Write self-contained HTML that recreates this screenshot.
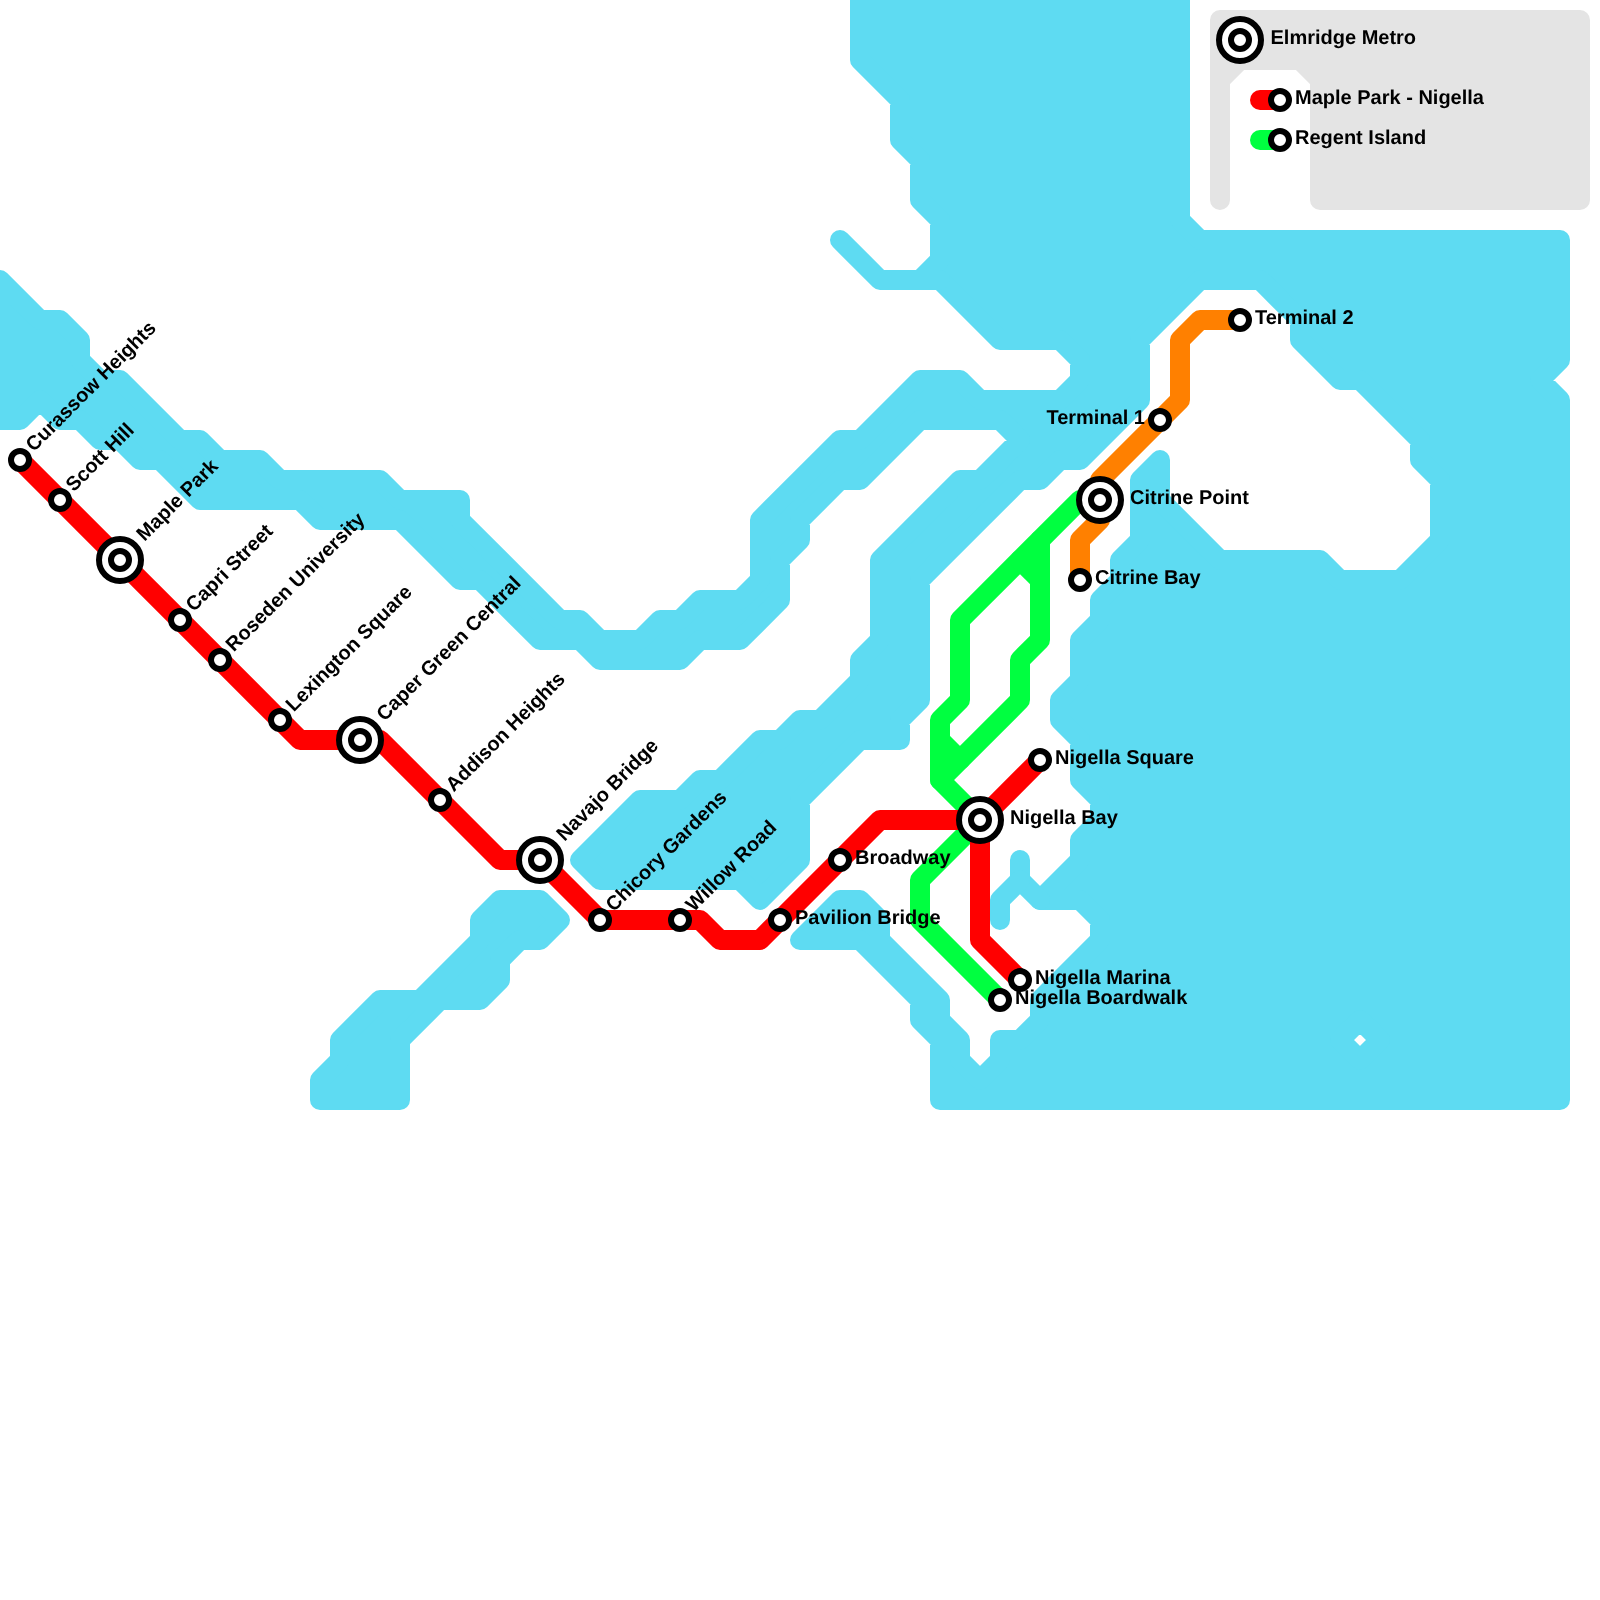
<!DOCTYPE html>
<html><head><meta charset="utf-8"><title>Elmridge Metro</title>
<style>
html,body{margin:0;padding:0;background:#fff}
svg{display:block;will-change:transform}
text{font-family:"Liberation Sans",sans-serif;font-weight:bold;font-size:20px;fill:#000;text-rendering:geometricPrecision}
</style></head><body>
<svg width="1600" height="1600" viewBox="0 0 1600 1600">
<rect width="1600" height="1600" fill="#fff"/>
<g fill="#5edbf2" stroke="#5edbf2" stroke-width="20" stroke-linejoin="round" stroke-linecap="round">
<path fill-rule="evenodd" d="M0,280 L40,320 L60,320 L80,340 L80,360 L100,380 L120,380 L180,440 L200,440 L220,460 L260,460 L280,480 L380,480 L400,500 L460,500 L460,520 L560,620 L580,620 L600,640 L640,640 L660,620 L680,620 L700,600 L740,600 L760,580 L760,520 L840,440 L860,440 L920,380 L960,380 L980,400 L1060,400 L1080,380 L1080,360 L1060,340 L1000,340 L940,280 L920,280 L940,260 L940,220 L920,200 L920,160 L900,140 L900,100 L860,60 L860,-20 L1180,-20 L1180,220 L1200,240 L1560,240 L1560,360 L1540,380 L1560,400 L1560,1100 L940,1100 L940,1040 L920,1020 L920,1000 L860,940 L800,940 L840,900 L860,900 L880,920 L880,940 L940,1000 L940,1020 L960,1040 L960,1060 L980,1080 L1000,1060 L1000,1040 L1020,1040 L1040,1020 L1040,1000 L1100,940 L1100,920 L1080,900 L1040,900 L1080,860 L1080,840 L1100,820 L1100,800 L1080,780 L1080,740 L1060,720 L1060,700 L1080,680 L1080,640 L1100,620 L1100,600 L1120,580 L1120,560 L1140,540 L1140,480 L1160,460 L1160,500 L1220,560 L1320,560 L1340,580 L1400,580 L1440,540 L1440,480 L1420,460 L1420,440 L1360,380 L1340,380 L1300,340 L1300,320 L1260,280 L1200,280 L1140,340 L1140,400 L1080,460 L1060,460 L1040,480 L1020,480 L920,580 L920,700 L900,720 L900,740 L860,740 L800,800 L800,860 L760,900 L740,880 L600,880 L580,860 L640,800 L680,800 L700,780 L720,780 L760,740 L780,740 L800,720 L820,720 L860,680 L860,660 L880,640 L880,560 L960,480 L980,480 L1020,440 L1000,420 L920,420 L860,480 L840,480 L800,520 L800,540 L780,560 L780,600 L740,640 L700,640 L680,660 L600,660 L580,640 L540,640 L480,580 L460,580 L400,520 L320,520 L300,500 L200,500 L160,460 L140,460 L120,440 L100,440 L80,420 L60,420 L40,400 L20,420 L0,420 Z M1340,1040 L1360,1020 L1380,1040 L1360,1060 Z"/>
<path d="M500,900 L540,900 L560,920 L540,940 L520,940 L500,960 L500,980 L480,1000 L440,1000 L400,1040 L400,1100 L320,1100 L320,1080 L340,1060 L340,1040 L380,1000 L420,1000 L480,940 L480,920 Z"/>
<path fill="none" d="M840,240 L880,280 L940,280"/>
<path fill="none" d="M1020,860 L1020,880 L1040,900"/>
<path fill="none" d="M1020,880 L1000,900 L1000,920"/>
</g>
<path d="M1220,20 L1580,20 L1580,200 L1320,200 L1320,80 L1300,60 L1240,60 L1220,80 L1220,200 Z" fill="#e4e4e4" stroke="#e4e4e4" stroke-width="20" stroke-linejoin="round"/>
<g fill="none" stroke="#ff8000" stroke-width="20" stroke-linejoin="round" stroke-linecap="round">
<path d="M1080,580 L1080,540 L1100,520 L1100,500 L1100,480 L1180,400 L1180,340 L1200,320 L1240,320"/>
</g>
<g fill="none" stroke="#00ff40" stroke-width="20" stroke-linejoin="round" stroke-linecap="round">
<path d="M1100,500 L1080,500 L960,620 L960,700 L940,720 L940,780 L980,820 L920,880 L920,920 L1000,1000"/>
<path d="M1040,540 L1040,640 L1020,660 L1020,700 L940,780"/>
<path d="M1020,560 L1040,580"/>
<path d="M940,740 L960,760"/>
</g>
<g fill="none" stroke="#ff0000" stroke-width="20" stroke-linejoin="round" stroke-linecap="round">
<path d="M20,460 L280,720 L300,740 L380,740 L440,800 L500,860 L540,860 L600,920 L700,920 L720,940 L760,940 L780,920 L880,820 L980,820 L1040,760"/>
<path d="M980,820 L980,940 L1020,980"/>
</g>
<g fill="none" stroke-width="20" stroke-linecap="round"><path stroke="#ff0000" d="M1260,100 L1280,100"/><path stroke="#00ff40" d="M1260,140 L1280,140"/></g>
<g fill="#fff" stroke="#000" stroke-width="6">
<circle cx="20" cy="460" r="9"/>
<circle cx="60" cy="500" r="9"/>
<circle cx="120" cy="560" r="21"/><circle cx="120" cy="560" r="9"/>
<circle cx="180" cy="620" r="9"/>
<circle cx="220" cy="660" r="9"/>
<circle cx="280" cy="720" r="9"/>
<circle cx="360" cy="740" r="21"/><circle cx="360" cy="740" r="9"/>
<circle cx="440" cy="800" r="9"/>
<circle cx="540" cy="860" r="21"/><circle cx="540" cy="860" r="9"/>
<circle cx="600" cy="920" r="9"/>
<circle cx="680" cy="920" r="9"/>
<circle cx="780" cy="920" r="9"/>
<circle cx="840" cy="860" r="9"/>
<circle cx="980" cy="820" r="21"/><circle cx="980" cy="820" r="9"/>
<circle cx="1040" cy="760" r="9"/>
<circle cx="1020" cy="980" r="9"/>
<circle cx="1000" cy="1000" r="9"/>
<circle cx="1100" cy="500" r="21"/><circle cx="1100" cy="500" r="9"/>
<circle cx="1080" cy="580" r="9"/>
<circle cx="1240" cy="320" r="9"/>
<circle cx="1160" cy="420" r="9"/>
<circle cx="1240" cy="40" r="21"/><circle cx="1240" cy="40" r="9"/><circle cx="1280" cy="100" r="9"/><circle cx="1280" cy="140" r="9"/>
</g>
<g>
<text x="35" y="464.5" transform="rotate(-45 20 460)">Curassow Heights</text>
<text x="75" y="504.5" transform="rotate(-45 60 500)">Scott Hill</text>
<text x="150" y="564.5" transform="rotate(-45 120 560)">Maple Park</text>
<text x="195" y="624.5" transform="rotate(-45 180 620)">Capri Street</text>
<text x="235" y="664.5" transform="rotate(-45 220 660)">Roseden University</text>
<text x="295" y="724.5" transform="rotate(-45 280 720)">Lexington Square</text>
<text x="390" y="744.5" transform="rotate(-45 360 740)">Caper Green Central</text>
<text x="455" y="804.5" transform="rotate(-45 440 800)">Addison Heights</text>
<text x="570" y="864.5" transform="rotate(-45 540 860)">Navajo Bridge</text>
<text x="615" y="924.5" transform="rotate(-45 600 920)">Chicory Gardens</text>
<text x="695" y="924.5" transform="rotate(-45 680 920)">Willow Road</text>
<text x="795" y="924">Pavilion Bridge</text>
<text x="855" y="864">Broadway</text>
<text x="1010" y="824">Nigella Bay</text>
<text x="1055" y="764">Nigella Square</text>
<text x="1035" y="984">Nigella Marina</text>
<text x="1015" y="1004">Nigella Boardwalk</text>
<text x="1130" y="504">Citrine Point</text>
<text x="1095" y="584">Citrine Bay</text>
<text x="1255" y="324">Terminal 2</text>
<text x="1145" y="424" text-anchor="end">Terminal 1</text>
<text x="1270.5" y="44">Elmridge Metro</text>
<text x="1295" y="104">Maple Park - Nigella</text>
<text x="1295" y="144">Regent Island</text>
</g>
</svg>
</body></html>
